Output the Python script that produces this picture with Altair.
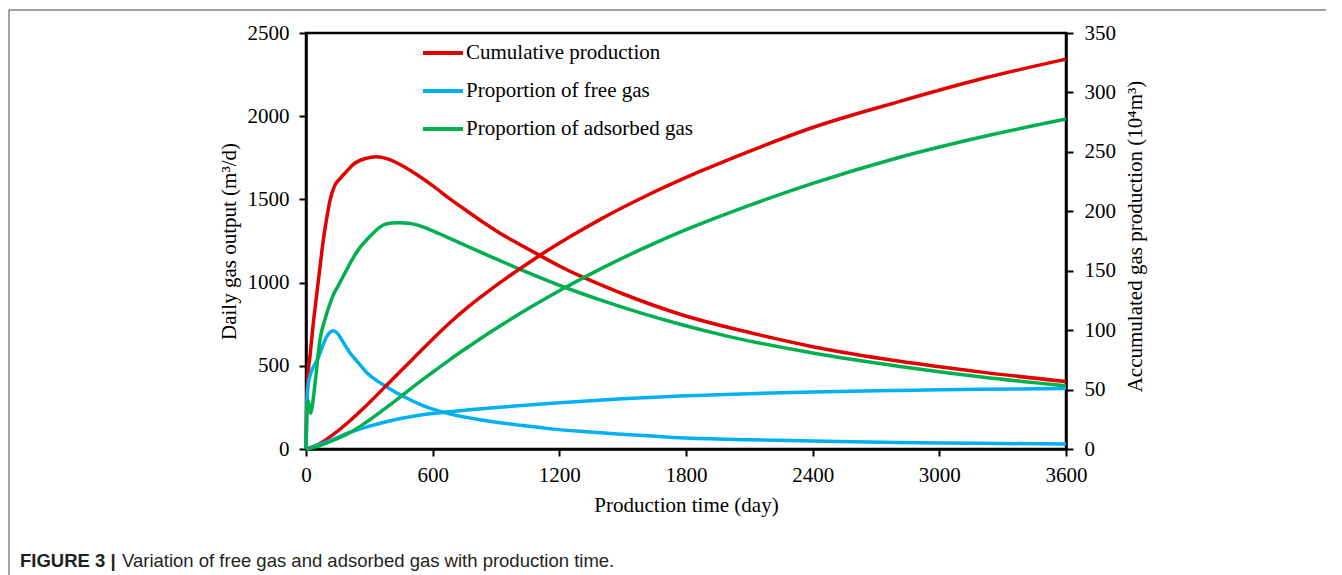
import altair as alt
import pandas as pd

# ---------------- data ----------------
SERIES = ["Cumulative production", "Proportion of free gas", "Proportion of adsorbed gas"]
COLORS = ["#E30000", "#00B0F0", "#00B050"]

# daily gas output (m3/d), left axis
red_daily_day = [0, 3, 8, 19, 35, 50, 65, 82, 100, 114, 135, 161, 190, 224, 280, 335, 390, 445,
                 524, 603, 680, 761, 840, 919, 1000, 1100, 1200, 1298, 1400, 1500, 1772, 2100, 2400,
                 2813, 3200, 3600]
red_daily_val = [0, 250, 420, 560, 760, 920, 1080, 1256, 1400, 1496, 1580, 1625, 1665, 1710, 1745, 1757, 1742, 1710,
                 1650, 1580, 1505, 1432, 1362, 1296, 1238, 1168, 1100, 1040, 985, 933, 810, 700, 615,
                 527, 462, 405]

blue_daily_day = [0, 5, 12, 19, 35, 51, 66, 82, 98, 115, 129, 145, 177, 208, 240, 287, 330, 382, 440, 493,
                  560, 635, 700, 761, 824, 919, 1000, 1140, 1300, 1500, 1772, 2100, 2400, 2800, 3200, 3600]
blue_daily_val = [0, 300, 400, 440, 494, 530, 575, 630, 675, 702, 711, 700, 640, 578, 530, 460, 415, 374, 330, 296,
                  258, 226, 205, 190, 176, 158, 145, 124, 106, 89, 67, 55, 48, 39, 34, 30]

green_daily_day = [0, 4, 8, 14, 22, 30, 45, 66, 90, 110, 129, 150, 177, 200, 224, 255, 287, 320, 366, 405, 445,
                   485, 524, 580, 635, 700, 761, 840, 919, 1014, 1100, 1219, 1400, 1600, 1772, 2000, 2400,
                   2813, 3200, 3600]
green_daily_val = [0, 200, 290, 270, 215, 260, 420, 655, 780, 860, 925, 975, 1040, 1095, 1150, 1210, 1256, 1300, 1346, 1358, 1360,
                   1357, 1347, 1322, 1292, 1255, 1220, 1176, 1132, 1080, 1035, 975, 893, 812, 750, 677, 577,
                   496, 433, 380]

# accumulated gas production (10^4 m3), right axis
red_cum_day = [0, 50, 100, 139, 200, 297, 392, 445, 524, 603, 680, 761, 840, 919, 1000, 1100, 1250, 1392,
               1600, 1866, 2100, 2400, 2813, 3200, 3600]
red_cum_val = [0, 3, 8.5, 13.5, 22.5, 38.5, 55.5, 65, 79, 93, 106, 118.5, 129.5, 140, 150, 162, 178.5, 193,
               212, 233.5, 250.5, 270.5, 292.5, 311.5, 328]

blue_cum_day = [0, 60, 139, 200, 297, 370, 455, 597, 714, 761, 919, 1200, 1500, 1772, 2100, 2400, 2813, 3200, 3600]
blue_cum_val = [0, 3.5, 9, 13.5, 19, 22.5, 25.8, 29.8, 32, 32.8, 35.2, 39, 42.2, 44.5, 46.5, 48, 49.3, 50.2, 51]

green_cum_day = [0, 60, 139, 200, 297, 370, 455, 549, 603, 680, 761, 840, 919, 1000, 1100, 1219, 1400, 1600,
                 1800, 2100, 2400, 2813, 3200, 3600]
green_cum_val = [0, 2.5, 8, 13, 24, 33.5, 45, 58, 65, 75, 85, 94.5, 103.5, 112.5, 123, 135, 152, 169,
                 184.5, 205, 223.5, 245.5, 262.5, 277.6]

x_ticks = [0, 600, 1200, 1800, 2400, 3000, 3600]
left_ticks = [0, 500, 1000, 1500, 2000, 2500]
right_ticks = [0, 50, 100, 150, 200, 250, 300, 350]

CAPTION_BOLD = "FIGURE 3 |"
CAPTION_TEXT = "Variation of free gas and adsorbed gas with production time."


def long_df(pairs):
    frames = []
    for name, d, v in pairs:
        frames.append(pd.DataFrame({"day": d, "value": v, "series": name}))
    return pd.concat(frames, ignore_index=True)


daily_df = long_df([
    (SERIES[0], red_daily_day, red_daily_val),
    (SERIES[1], blue_daily_day, blue_daily_val),
    (SERIES[2], green_daily_day, green_daily_val),
])
cum_df = long_df([
    (SERIES[0], red_cum_day, red_cum_val),
    (SERIES[1], blue_cum_day, blue_cum_val),
    (SERIES[2], green_cum_day, green_cum_val),
])

W, H = 760, 416
SERIF = "Liberation Serif"
FS = 21

axis_common = dict(
    grid=False, tickSize=7, tickWidth=2, tickColor="black",
    domainColor="black", domainWidth=2.5,
    labelFont=SERIF, labelFontSize=FS, labelColor="black",
    titleFont=SERIF, titleFontSize=FS, titleFontWeight="normal", titleColor="black",
    labelOverlap=False, format="d",
)

x_enc = alt.X(
    "day:Q",
    scale=alt.Scale(domain=[0, 3600], nice=False, zero=False),
    axis=alt.Axis(values=x_ticks, title="Production time (day)", labelFlush=False,
                  labelPadding=8, titleX=W / 2, titleY=62, titleBaseline="alphabetic",
                  titleAlign="center", **axis_common),
)

legend = alt.Legend(
    title=None, orient="none", legendX=115, legendY=-2, symbolType="stroke",
    symbolSize=1600, symbolStrokeWidth=4, labelFont=SERIF, labelFontSize=FS,
    labelColor="black", labelOffset=1, rowPadding=6, labelLimit=0, padding=0,
)
color_enc = alt.Color("series:N", scale=alt.Scale(domain=SERIES, range=COLORS),
                      sort=SERIES, legend=legend)

daily = alt.Chart(daily_df).mark_line(interpolate="monotone", strokeWidth=3.5).encode(
    x=x_enc,
    y=alt.Y("value:Q", scale=alt.Scale(domain=[0, 2500], nice=False),
            axis=alt.Axis(orient="left", values=left_ticks, title="Daily gas output (m³/d)",
                          labelPadding=10, titleX=-77, titleY=H / 2, titleAngle=270,
                          titleBaseline="middle", titleAlign="center", **axis_common)),
    color=color_enc,
)

cum = alt.Chart(cum_df).mark_line(interpolate="monotone", strokeWidth=3.5).encode(
    x=x_enc,
    y=alt.Y("value:Q", scale=alt.Scale(domain=[0, 350], nice=False),
            axis=alt.Axis(orient="right", values=right_ticks,
                          title="Accumulated gas production (10⁴m³)",
                          labelPadding=11, titleX=69, titleY=203, titleAngle=270,
                          titleBaseline="middle", titleAlign="center", **axis_common)),
    color=color_enc,
)

# figure frame (thin gray border at top and left)
frame_src = pd.DataFrame({"k": [0]})
frame_top = alt.Chart(frame_src).mark_rule(color="#444444", strokeWidth=1).encode(
    x=alt.value(-297), x2=alt.value(1100), y=alt.value(-23))
frame_left = alt.Chart(frame_src).mark_rule(color="#444444", strokeWidth=1).encode(
    x=alt.value(-297), y=alt.value(-23), y2=alt.value(600))

cap_src = pd.DataFrame({"bold": [CAPTION_BOLD], "txt": [CAPTION_TEXT]})
cap_bold = alt.Chart(cap_src).mark_text(
    font="Liberation Sans", fontSize=18.5, fontWeight="bold", align="left",
    baseline="alphabetic", color="#231F20").encode(
    text="bold:N", x=alt.value(-286), y=alt.value(534))
cap_txt = alt.Chart(cap_src).mark_text(
    font="Liberation Sans", fontSize=18.5, align="left",
    baseline="alphabetic", color="#231F20").encode(
    text="txt:N", x=alt.value(-184), y=alt.value(534))

chart = alt.layer(daily, cum, frame_top, frame_left, cap_bold, cap_txt).resolve_scale(
    y="independent"
).properties(
    width=W, height=H,
    autosize=alt.AutoSizeParams(type="none"),
    padding={"left": 298, "top": 25, "right": 260, "bottom": 126},
    background="white",
).configure_view(stroke="black", strokeWidth=2.5)

chart.save("out.html", embed_options={"renderer": "svg", "actions": False})
